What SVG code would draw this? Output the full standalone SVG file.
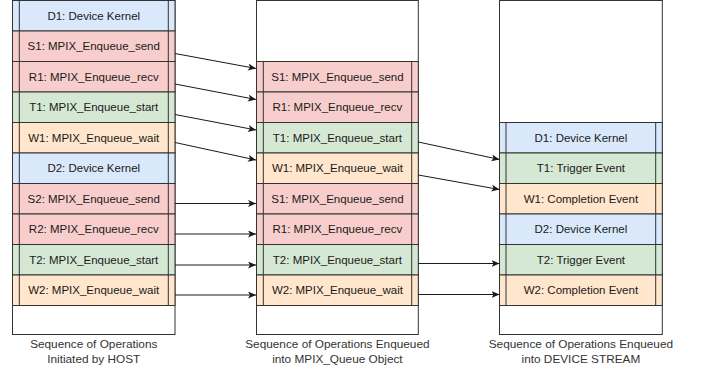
<svg xmlns="http://www.w3.org/2000/svg" width="702" height="369" viewBox="0 0 702 369">
<defs>
<style>
.col{fill:#ffffff;stroke:#333333;stroke-width:1}
.cell{stroke:#333333;stroke-width:1}
.bar{stroke:#333333;stroke-width:1;fill:none}
.b{fill:#dae8fc}
.r{fill:#f8cecc}
.g{fill:#d5e8d4}
.o{fill:#ffe6cc}
.t{font-family:"Liberation Sans",Arial,sans-serif;font-size:11.5px;fill:#1a1a1a;text-anchor:middle}
.cap{font-family:"Liberation Sans",Arial,sans-serif;font-size:11.8px;fill:#333333;text-anchor:middle}
.ln{stroke:#1a1a1a;stroke-width:1;fill:none;marker-end:url(#ah)}
</style>
<marker id="ah" markerUnits="userSpaceOnUse" markerWidth="9" markerHeight="8" refX="8" refY="3.5" orient="auto">
<path d="M0,0 L8,3.5 L0,7 L2,3.5 Z" fill="#1a1a1a"/>
</marker>
</defs>

<g id="col-host">
<rect class="col" x="12.5" y="0.5" width="162.5" height="334"/>
<g id="h-d1"><rect class="cell b" x="12.5" y="0.5" width="162.5" height="30.5"/><path class="bar" d="M19.3,0.5V31M168.3,0.5V31"/><text class="t" x="93.75" y="19.9">D1: Device Kernel</text></g>
<g id="h-s1"><rect class="cell r" x="12.5" y="31" width="162.5" height="30.5"/><path class="bar" d="M19.3,31V61.5M168.3,31V61.5"/><text class="t" x="93.75" y="50.4">S1: MPIX_Enqueue_send</text></g>
<g id="h-r1"><rect class="cell r" x="12.5" y="61.5" width="162.5" height="30.5"/><path class="bar" d="M19.3,61.5V92M168.3,61.5V92"/><text class="t" x="93.75" y="80.9">R1: MPIX_Enqueue_recv</text></g>
<g id="h-t1"><rect class="cell g" x="12.5" y="92" width="162.5" height="30.5"/><path class="bar" d="M19.3,92V122.5M168.3,92V122.5"/><text class="t" x="93.75" y="111.4">T1: MPIX_Enqueue_start</text></g>
<g id="h-w1"><rect class="cell o" x="12.5" y="122.5" width="162.5" height="30.5"/><path class="bar" d="M19.3,122.5V153M168.3,122.5V153"/><text class="t" x="93.75" y="141.9">W1: MPIX_Enqueue_wait</text></g>
<g id="h-d2"><rect class="cell b" x="12.5" y="153" width="162.5" height="30.5"/><path class="bar" d="M19.3,153V183.5M168.3,153V183.5"/><text class="t" x="93.75" y="172.4">D2: Device Kernel</text></g>
<g id="h-s2"><rect class="cell r" x="12.5" y="183.5" width="162.5" height="30.5"/><path class="bar" d="M19.3,183.5V214M168.3,183.5V214"/><text class="t" x="93.75" y="202.9">S2: MPIX_Enqueue_send</text></g>
<g id="h-r2"><rect class="cell r" x="12.5" y="214" width="162.5" height="30.5"/><path class="bar" d="M19.3,214V244.5M168.3,214V244.5"/><text class="t" x="93.75" y="233.4">R2: MPIX_Enqueue_recv</text></g>
<g id="h-t2"><rect class="cell g" x="12.5" y="244.5" width="162.5" height="30.5"/><path class="bar" d="M19.3,244.5V275M168.3,244.5V275"/><text class="t" x="93.75" y="263.9">T2: MPIX_Enqueue_start</text></g>
<g id="h-w2"><rect class="cell o" x="12.5" y="275" width="162.5" height="30.5"/><path class="bar" d="M19.3,275V305.5M168.3,275V305.5"/><text class="t" x="93.75" y="294.4">W2: MPIX_Enqueue_wait</text></g>
<text class="cap" x="93.75" y="348">Sequence of Operations</text>
<text class="cap" x="93.75" y="363">Initiated by HOST</text>
</g>

<g id="col-queue">
<rect class="col" x="256.5" y="0.5" width="161.8" height="334"/>
<g id="q-s1"><rect class="cell r" x="256.5" y="61.5" width="161.8" height="30.5"/><path class="bar" d="M263.3,61.5V92M411.7,61.5V92"/><text class="t" x="337.4" y="80.9">S1: MPIX_Enqueue_send</text></g>
<g id="q-r1"><rect class="cell r" x="256.5" y="92" width="161.8" height="30.5"/><path class="bar" d="M263.3,92V122.5M411.7,92V122.5"/><text class="t" x="337.4" y="111.4">R1: MPIX_Enqueue_recv</text></g>
<g id="q-t1"><rect class="cell g" x="256.5" y="122.5" width="161.8" height="30.5"/><path class="bar" d="M263.3,122.5V153M411.7,122.5V153"/><text class="t" x="337.4" y="141.9">T1: MPIX_Enqueue_start</text></g>
<g id="q-w1"><rect class="cell o" x="256.5" y="153" width="161.8" height="30.5"/><path class="bar" d="M263.3,153V183.5M411.7,153V183.5"/><text class="t" x="337.4" y="172.4">W1: MPIX_Enqueue_wait</text></g>
<g id="q-s2"><rect class="cell r" x="256.5" y="183.5" width="161.8" height="30.5"/><path class="bar" d="M263.3,183.5V214M411.7,183.5V214"/><text class="t" x="337.4" y="202.9">S1: MPIX_Enqueue_send</text></g>
<g id="q-r2"><rect class="cell r" x="256.5" y="214" width="161.8" height="30.5"/><path class="bar" d="M263.3,214V244.5M411.7,214V244.5"/><text class="t" x="337.4" y="233.4">R1: MPIX_Enqueue_recv</text></g>
<g id="q-t2"><rect class="cell g" x="256.5" y="244.5" width="161.8" height="30.5"/><path class="bar" d="M263.3,244.5V275M411.7,244.5V275"/><text class="t" x="337.4" y="263.9">T2: MPIX_Enqueue_start</text></g>
<g id="q-w2"><rect class="cell o" x="256.5" y="275" width="161.8" height="30.5"/><path class="bar" d="M263.3,275V305.5M411.7,275V305.5"/><text class="t" x="337.4" y="294.4">W2: MPIX_Enqueue_wait</text></g>
<text class="cap" x="337.4" y="348">Sequence of Operations Enqueued</text>
<text class="cap" x="337.4" y="363">into MPIX_Queue Object</text>
</g>

<g id="col-stream">
<rect class="col" x="499.5" y="0.5" width="162.8" height="334"/>
<g id="s-d1"><rect class="cell b" x="499.5" y="122.5" width="162.8" height="30.5"/><path class="bar" d="M506,122.5V153M655.7,122.5V153"/><text class="t" x="580.9" y="141.9">D1: Device Kernel</text></g>
<g id="s-t1"><rect class="cell g" x="499.5" y="153" width="162.8" height="30.5"/><path class="bar" d="M506,153V183.5M655.7,153V183.5"/><text class="t" x="580.9" y="172.4">T1: Trigger Event</text></g>
<g id="s-w1"><rect class="cell o" x="499.5" y="183.5" width="162.8" height="30.5"/><path class="bar" d="M506,183.5V214M655.7,183.5V214"/><text class="t" x="580.9" y="202.9">W1: Completion Event</text></g>
<g id="s-d2"><rect class="cell b" x="499.5" y="214" width="162.8" height="30.5"/><path class="bar" d="M506,214V244.5M655.7,214V244.5"/><text class="t" x="580.9" y="233.4">D2: Device Kernel</text></g>
<g id="s-t2"><rect class="cell g" x="499.5" y="244.5" width="162.8" height="30.5"/><path class="bar" d="M506,244.5V275M655.7,244.5V275"/><text class="t" x="580.9" y="263.9">T2: Trigger Event</text></g>
<g id="s-w2"><rect class="cell o" x="499.5" y="275" width="162.8" height="30.5"/><path class="bar" d="M506,275V305.5M655.7,275V305.5"/><text class="t" x="580.9" y="294.4">W2: Completion Event</text></g>
<text class="cap" x="580.9" y="348">Sequence of Operations Enqueued</text>
<text class="cap" x="580.9" y="363">into DEVICE STREAM</text>
</g>

<g id="connectors">
<path class="ln" d="M175,53.5L256,68.5"/>
<path class="ln" d="M175,84L256,99.5"/>
<path class="ln" d="M175,114.5L256,130"/>
<path class="ln" d="M175,142.5L256,160"/>
<path class="ln" d="M175,203.5H256"/>
<path class="ln" d="M175,234H256"/>
<path class="ln" d="M175,265H256"/>
<path class="ln" d="M175,295H256"/>
<path class="ln" d="M418.3,142L499.5,159.5"/>
<path class="ln" d="M418.3,175L499.5,189.5"/>
<path class="ln" d="M418.3,263.5H499.5"/>
<path class="ln" d="M418.3,294.5H499.5"/>
</g>
</svg>
